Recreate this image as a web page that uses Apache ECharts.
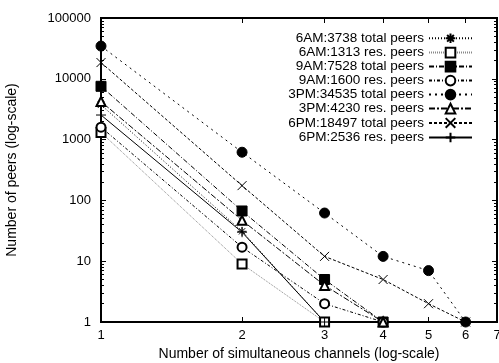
<!DOCTYPE html>
<html><head><meta charset="utf-8">
<script src="https://cdn.jsdelivr.net/npm/echarts@6/dist/echarts.min.js"></script>
<style>html,body{margin:0;padding:0;background:#fff}#c{width:499px;height:363px}</style>
</head><body><div id="c"></div>
<script>
const channels = [1, 2, 3, 4, 5, 6];
const xTicks = [1, 2, 3, 4, 5, 6, 7];
const yTicks = [1, 10, 100, 1000, 10000, 100000];
const yMinorTicks = [2,3,4,5,6,7,8,9,20,30,40,50,60,70,80,90,200,300,400,500,600,700,800,900,2000,3000,4000,5000,6000,7000,8000,9000,20000,30000,40000,50000,60000,70000,80000,90000];

const names = [
  '6AM:3738 total peers', '6AM:1313 res. peers',
  '9AM:7528 total peers', '9AM:1600 res. peers',
  '3PM:34535 total peers', '3PM:4230 res. peers',
  '6PM:18497 total peers', '6PM:2536 res. peers'
];
const am6Total = [3738, 31, 1];
const am6Res = [1313, 9, 1];
const am9Total = [7528, 67, 5, 1];
const am9Res = [1600, 17, 2, 1];
const pm3Total = [34535, 620, 62, 12, 7, 1];
const pm3Res = [4230, 47, 4, 1];
const pm6Total = [18497, 175, 12, 5, 2, 1];
const pm6Res = [2536, 30, 1];

const seriesValues = [am6Total, am6Res, am9Total, am9Res, pm3Total, pm3Res, pm6Total, pm6Res];

const P = {
  star: 'path://M0,5L10,5M5,0L5,10M1.5,1.5L8.5,8.5M8.5,1.5L1.5,8.5',
  cross: 'path://M0,0L10,10M10,0L0,10',
  plus: 'path://M0,5L10,5M5,0L5,10'
};
const styles = [
  {symbol: P.star, size: 9, stroke: true, dash: [1, 2], color: '#000'},
  {symbol: 'emptyRect', size: 9, dash: [1, 1], color: '#888'},
  {symbol: 'rect', size: 10, dash: [5, 2, 1, 2], color: '#000'},
  {symbol: 'emptyCircle', size: 9, dash: [3, 2, 1, 2], color: '#000'},
  {symbol: 'circle', size: 10, dash: [2, 4], color: '#000'},
  {symbol: 'emptyTriangle', size: 9, dash: [6, 2, 2, 2], color: '#000'},
  {symbol: P.cross, size: 9, stroke: true, dash: [3, 2], color: '#000'},
  {symbol: P.plus, size: 10, stroke: true, dash: 'solid', color: '#000'}
];

const series = seriesValues.map((vals, i) => {
  const s = styles[i];
  return {
    name: names[i], type: 'line',
    data: vals.map((v, j) => [channels[j], v]),
    symbol: s.symbol, symbolSize: s.size, showAllSymbol: true,
    lineStyle: {color: s.color, width: 1, type: s.dash},
    itemStyle: s.stroke ? {color: 'none', borderColor: '#000', borderWidth: 1}
                        : {color: '#000', borderColor: '#000', borderWidth: 1},
    emphasis: {disabled: true}, animation: false, clip: false
  };
});

const font = 'Liberation Sans, Arial, Helvetica, sans-serif';
const fmt = v => String(Math.round(v));
const tickStyle = {color: '#000', width: 1};
const chart = echarts.init(document.getElementById('c'));
chart.setOption({
  animation: false,
  textStyle: {fontFamily: font},
  grid: {left: 101, right: 2, top: 18, bottom: 41, show: true, borderColor: '#000', borderWidth: 2,
         containLabel: false, outerBoundsMode: 'none'},
  legend: {
    orient: 'vertical', align: 'right', right: 21, top: 26,
    itemWidth: 43, itemHeight: 12, itemGap: 0,
    textStyle: {fontSize: 13.5, color: '#000', fontFamily: font, lineHeight: 14},
    data: names
  },
  xAxis: [
    {type: 'log', logBase: 10, min: 1, max: 7, position: 'bottom',
     axisLine: {show: false}, splitLine: {show: false},
     axisTick: {inside: true, length: 5, customValues: xTicks, lineStyle: tickStyle},
     axisLabel: {customValues: xTicks, formatter: fmt, color: '#000', fontSize: 13, margin: 7},
     name: 'Number of simultaneous channels (log-scale)', nameLocation: 'middle', nameGap: 25,
     nameTextStyle: {fontSize: 14, color: '#000'}},
    {type: 'log', logBase: 10, min: 1, max: 7, position: 'top',
     axisLine: {show: false}, splitLine: {show: false},
     axisTick: {inside: true, length: 5, customValues: xTicks, lineStyle: tickStyle},
     axisLabel: {show: false}}
  ],
  yAxis: [
    {type: 'log', logBase: 10, min: 1, max: 100000, position: 'left',
     axisLine: {show: false}, splitLine: {show: false},
     axisTick: {inside: true, length: 5, customValues: yTicks, lineStyle: tickStyle},
     axisLabel: {customValues: yTicks, formatter: fmt, color: '#000', fontSize: 13, margin: 10},
     name: 'Number of peers (log-scale)', nameLocation: 'middle', nameGap: 82,
     nameTextStyle: {fontSize: 14, color: '#000'}},
    {type: 'log', logBase: 10, min: 1, max: 100000, position: 'left',
     axisLine: {show: false}, splitLine: {show: false},
     axisTick: {inside: true, length: 3, customValues: yMinorTicks, lineStyle: tickStyle},
     axisLabel: {show: false}},
    {type: 'log', logBase: 10, min: 1, max: 100000, position: 'right',
     axisLine: {show: false}, splitLine: {show: false},
     axisTick: {inside: true, length: 5, customValues: yTicks, lineStyle: tickStyle},
     axisLabel: {show: false}},
    {type: 'log', logBase: 10, min: 1, max: 100000, position: 'right',
     axisLine: {show: false}, splitLine: {show: false},
     axisTick: {inside: true, length: 3, customValues: yMinorTicks, lineStyle: tickStyle},
     axisLabel: {show: false}}
  ],
  series: series
});
</script></body></html>
